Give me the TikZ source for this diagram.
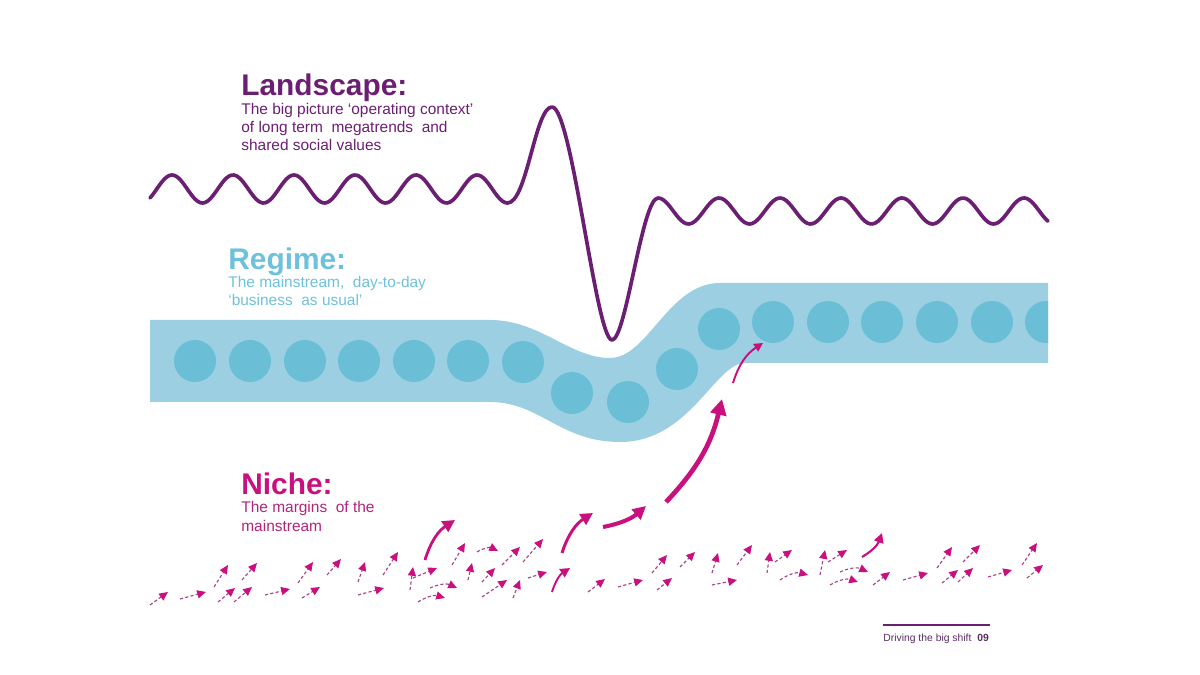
\documentclass[tikz,border=0pt]{standalone}
\usepackage{fontspec}
\setmainfont{Liberation Sans}
\usetikzlibrary{arrows.meta}

\definecolor{landpurple}{HTML}{6B1F72}
\definecolor{bandblue}{HTML}{9DCFE2}
\definecolor{dotblue}{HTML}{6ABFD6}
\definecolor{regimetext}{HTML}{6EC1DA}
\definecolor{nichepink}{HTML}{C8107F}
\definecolor{nichetext}{HTML}{B0247C}
\definecolor{dashpink}{HTML}{A8438A}
\definecolor{footpurple}{HTML}{5B2B63}

\tikzset{
  wave/.style={landpurple, line width=2.1pt, line join=round, line cap=round},
  band/.style={fill=bandblue},
  dot/.style={fill=dotblue},
  sprout/.style={dashpink, line width=0.65pt, dash pattern=on 1.8pt off 1.3pt,
    -{Triangle[length=5pt, width=4.6pt, color=nichepink, fill=nichepink]}},
  leap/.style 2 args={nichepink, line width=#1,
    -{Triangle[length=#2, width=#2]}},
  heading/.style={anchor=base west, inner sep=0pt,
    font=\fontsize{17}{20}\selectfont\bfseries},
  % base of a multi-line blurb sits on its last line
  blurb/.style={anchor=base west, inner sep=0pt, align=left,
    font=\fontsize{8.8}{10.4}\selectfont},
}

\begin{document}
\begin{tikzpicture}[x=0.02cm, y=-0.02cm]
  \useasboundingbox (0,0) rectangle (1200,675);

  % landscape
  \draw[wave] plot[domain=150:507.5, samples=150] (\x, {189-14*cos(5.901639*(\x-172))})
    .. controls (527,203) and (535,107) .. (552,107)
    .. controls (572,107) and (596,340) .. (612,340)
    .. controls (626,340) and (642,198) .. (658,198)
    -- plot[domain=658:1048, samples=150] (\x, {211-13*cos(5.901639*(\x-658))});

  \node[heading, landpurple] (land) at (241,96) {Landscape:};
  \node[blurb, landpurple] (landtext) at (241,151)
    {The big picture ‘operating context’\\of long term \ megatrends \ and\\shared social values};

  % regime
  \fill[band] (150,320) -- (490,320)
    .. controls (540,320) and (570,358) .. (610,358)
    .. controls (648,358) and (668,283) .. (720,283)
    -- (1048,283) -- (1048,363) -- (745,363)
    .. controls (715,363) and (690,442) .. (620,442)
    .. controls (560,442) and (540,402) .. (490,402)
    -- (150,402) -- cycle;

  \begin{scope}
    \clip (150,250) rectangle (1048,460);
    \foreach \cx/\cy in {195/361, 250/361, 305/361, 359/361, 414/361, 468/361, 523/362,
        572/393, 628/402, 677/369, 719/329,
        773/322, 828/322, 882/322, 937/322, 992/322, 1046/322}
      \fill[dot] (\cx,\cy) circle (21);
  \end{scope}

  \node[heading, regimetext] (regime) at (228,270) {Regime:};
  \node[blurb, regimetext] (regimetext) at (228,306)
    {The mainstream, \ day-to-day\\‘business \ as usual’};

  % niche
  \node[heading, nichepink] (niche) at (241,494) {Niche:};
  \node[blurb, nichetext] (nichetext) at (241,531)
    {The margins \ of the\\mainstream};

  \foreach \i/\sx/\sy/\tx/\ty/\b in {
      1/150/605/168/592/0, 2/180/599/206/592/0, 3/214/587/228/565/0,
      4/218/602/235/588/0, 5/234/602/252/587/0, 6/242/580/257/563/0,
      7/265/595/290/589/0, 8/298/583/313/562/0, 9/302/598/320/587/0,
      10/327/575/341/559/0, 11/358/582/365/562/0, 12/358/595/384/588/0,
      13/383/575/398/552/0, 14/410/590/413/567/0, 15/413/578/437/568/0,
      16/418/602/445/598/25, 17/430/588/457/588/25, 18/452/565/465/543/0,
      19/468/580/472/563/0, 20/477/552/498/551/30, 21/482/582/495/568/0,
      22/482/597/507/580/0, 23/502/565/520/547/0, 24/513/598/520/580/0,
      25/523/562/543/539/0, 26/528/578/547/572/0, 27/588/592/605/579/0,
      28/618/587/643/580/0, 29/652/573/667/555/0, 30/657/590/672/578/0,
      31/680/567/695/552/0, 32/712/573/718/553/0, 33/712/585/737/580/0,
      34/737/565/752/545/0, 35/767/573/770/552/0, 36/775/562/792/550/0,
      37/780/580/808/575/25, 38/820/575/825/550/0, 39/828/562/847/550/0,
      40/840/572/868/572/25, 41/830/585/858/582/25, 42/873/585/890/572/0,
      43/903/580/928/573/0, 44/937/568/952/547/0, 45/942/583/958/570/0,
      46/963/562/980/545/0, 47/958/582/973/568/0, 48/988/577/1012/570/0,
      49/1022/565/1037/543/0, 50/1027/578/1043/565/0} {
    \coordinate (s\i) at (\sx,\sy);
    \coordinate (t\i) at (\tx,\ty);
    \draw[sprout] (s\i) to[bend left=\b] (t\i);
  }

  % the few that break through
  \coordinate (l1) at (425,560); \coordinate (m1) at (455,520);
  \coordinate (l2) at (552,592); \coordinate (m2) at (570,568);
  \coordinate (l3) at (562,553); \coordinate (m3) at (593,513);
  \coordinate (l4) at (603,527); \coordinate (m4) at (646,506);
  \coordinate (l5) at (666,502); \coordinate (m5) at (722,399);
  \coordinate (l6) at (733,383); \coordinate (m6) at (763,343);
  \coordinate (l7) at (862,557); \coordinate (m7) at (882,533);

  \draw[leap={1.6pt}{7pt}] (l1) to[bend left=20] (m1);
  \draw[leap={1.1pt}{5.5pt}] (l2) to[bend left=20] (m2);
  \draw[leap={1.7pt}{7pt}] (l3) to[bend left=20] (m3);
  \draw[leap={2.3pt}{7.5pt}] (l4) to[bend right=15] (m4);
  \draw[leap={2.7pt}{9pt}] (l5) to[bend right=15] (m5);
  \draw[leap={1.1pt}{5pt}] (l6) to[bend left=20] (m6);
  \draw[leap={1.2pt}{5.5pt}] (l7) to[bend right=20] (m7);

  % footer
  \coordinate (rule l) at (883,625);
  \coordinate (rule r) at (990,625);
  \draw[landpurple, line width=0.6pt] (rule l) -- (rule r);
  \node[anchor=base west, inner sep=0pt, footpurple, font=\fontsize{5.9}{7}\selectfont]
    (foot) at (883,641) {Driving the big shift \ \textbf{09}};
\end{tikzpicture}
\end{document}
